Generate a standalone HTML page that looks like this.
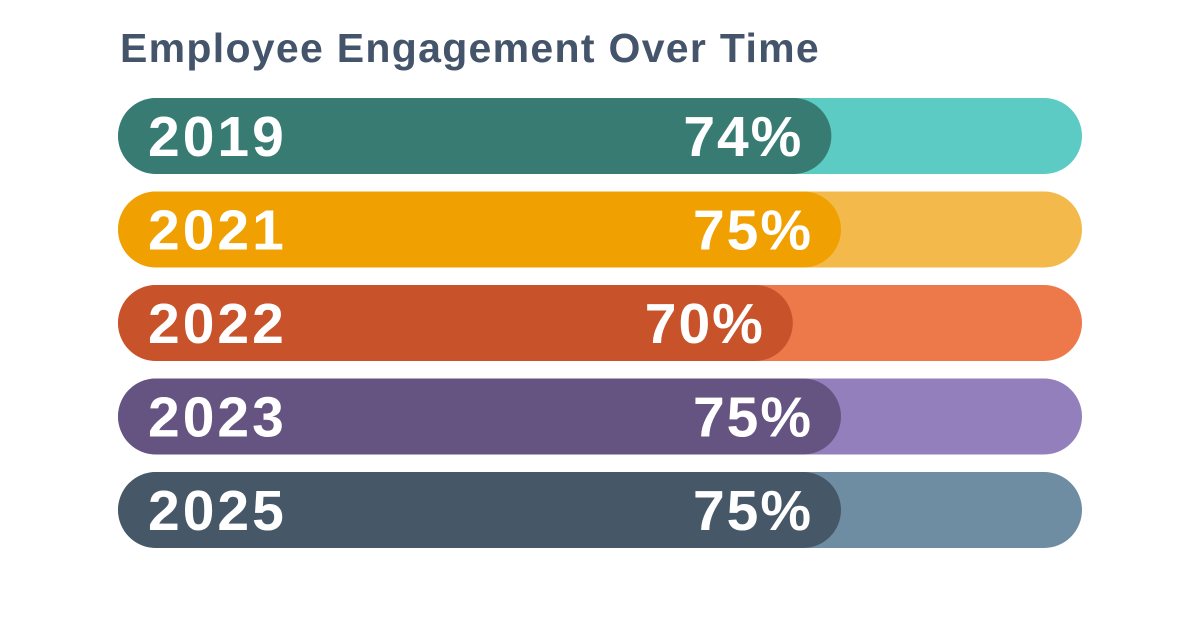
<!DOCTYPE html>
<html><head><meta charset="utf-8"><style>
body{margin:0;background:#fff;width:1200px;height:628px;overflow:hidden;font-family:"Liberation Sans",sans-serif}
#title{position:absolute;left:120px;top:25px;font-size:41px;font-weight:bold;color:#44546a;letter-spacing:1.3px}
</style></head><body>
<div id="title">Employee Engagement Over Time</div>
<svg id="chart" width="1200" height="628" style="position:absolute;left:0;top:0"></svg>
<script>
const categories=["2019","2021","2022","2023","2025"];
const values=[74,75,70,75,75];
const darkColors=["#377b73","#f0a000","#c8532a","#655382","#465867"];
const lightColors=["#5bcbc4","#f3b94a","#ed784a","#937fbb","#6e8da3"];
const x0=118,x1=1082,top0=98,step=93.5,h=76;
const xs=v=>x0+(v/100)*(x1-x0);
const svg=document.getElementById('chart');
const NS='http://www.w3.org/2000/svg';
categories.forEach((c,i)=>{
  const y=top0+i*step;
  const t=document.createElementNS(NS,'rect');
  t.setAttribute('x',x0);t.setAttribute('y',y);t.setAttribute('width',x1-x0);t.setAttribute('height',h);
  t.setAttribute('rx',h/2);t.setAttribute('fill',lightColors[i]);
  
  
  svg.appendChild(t);
  const b=document.createElementNS(NS,'rect');
  b.setAttribute('x',x0);b.setAttribute('y',y);b.setAttribute('width',xs(values[i])-x0);b.setAttribute('height',h);
  b.setAttribute('rx',h/2);b.setAttribute('fill',darkColors[i]);
  
  
  svg.appendChild(b);
  const l=document.createElementNS(NS,'text');
  l.setAttribute('x',148);l.setAttribute('y',y+h/2+20);
  l.setAttribute('fill','#fff');l.setAttribute('font-size','57');l.setAttribute('font-weight','bold');
  l.setAttribute('letter-spacing','3');
  l.textContent=c;
  
  
  svg.appendChild(l);
  const p=document.createElementNS(NS,'text');
  p.setAttribute('x',xs(values[i])-30);p.setAttribute('y',y+h/2+20);
  p.setAttribute('text-anchor','end');
  p.setAttribute('fill','#fff');p.setAttribute('font-size','57');p.setAttribute('font-weight','bold');
  p.setAttribute('textLength','118');p.setAttribute('lengthAdjust','spacing');
  p.textContent=values[i]+'%';
  
  
  svg.appendChild(p);
});
</script>
</body></html>
